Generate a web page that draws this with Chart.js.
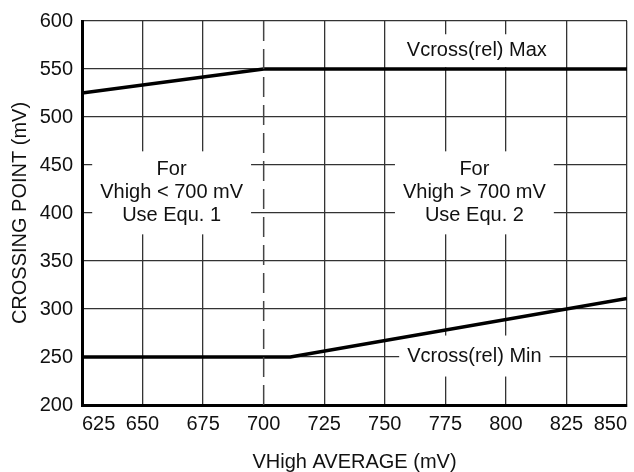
<!DOCTYPE html>
<html>
<head>
<meta charset="utf-8">
<script src="https://cdn.jsdelivr.net/npm/chart.js@4/dist/chart.umd.min.js"></script>
<style>
    html, body { margin: 0; padding: 0; background: #fff; }
    #wrap { width: 634px; height: 472px; }
</style>
</head>
<body>
<div id="wrap"><canvas id="crossChart" width="634" height="472"></canvas></div>
<script>
// ข้อมูลกราฟ (mV)
const maxX = [625, 700, 850];
const maxY = [525, 550, 550];
const minX = [625, 711, 850];
const minY = [250, 250, 311];
const splitX = [700, 700];
const splitY = [200, 600];
const xTicks = [625, 650, 675, 700, 725, 750, 775, 800, 825, 850];
const yTicks = [200, 250, 300, 350, 400, 450, 500, 550, 600];

// ข้อความในกราฟ (ตำแหน่งเป็นค่าบนแกน)
const notes = [
    { x: 662, y: 421, lines: ['For', 'Vhigh < 700 mV', 'Use Equ. 1'], padX: 8, padY: 7 },
    { x: 787, y: 421, lines: ['For', 'Vhigh > 700 mV', 'Use Equ. 2'], padX: 8, padY: 7 },
    { x: 788, y: 569, lines: ['Vcross(rel) Max'], padX: 6, padY: 5 },
    { x: 787, y: 251, lines: ['Vcross(rel) Min'], padX: 8, padY: 9 }
];

const FONT = "'Liberation Sans', Arial, sans-serif";
const FSIZE = 20;
const lineStep = 23;

const toPoints = (xs, ys) => xs.map((x, i) => ({ x, y: ys[i] }));

// วาดกล่องข้อความพื้นขาว
const notePlugin = {
    id: 'notes',
    beforeDatasetsDraw(chart) {
        const ctx = chart.ctx;
        const sx = chart.scales.x, sy = chart.scales.y;
        ctx.save();
        ctx.font = FSIZE + 'px ' + FONT;
        ctx.textAlign = 'center';
        ctx.textBaseline = 'middle';
        notes.forEach(n => {
            const cx = sx.getPixelForValue(n.x);
            const cy = sy.getPixelForValue(n.y);
            const w = Math.max(...n.lines.map(l => ctx.measureText(l).width));
            const h = n.lines.length * lineStep;
            ctx.fillStyle = '#fff';
            ctx.fillRect(cx - w / 2 - n.padX, cy - h / 2 - n.padY, w + n.padX * 2, h + n.padY * 2);
            ctx.fillStyle = '#111';
            n.lines.forEach((l, i) => {
                ctx.fillText(l, cx, cy - h / 2 + lineStep * (i + 0.5));
            });
        });
        ctx.restore();
    }
};

const ctx = document.getElementById('crossChart').getContext('2d');
new Chart(ctx, {
    type: 'scatter',
    data: {
        datasets: [
            {
                data: toPoints(splitX, splitY),
                showLine: true,
                borderColor: '#444',
                borderWidth: 1.5,
                borderDash: [20, 8],
                pointRadius: 0
            },
            {
                data: toPoints(maxX, maxY),
                showLine: true,
                borderColor: '#000',
                borderWidth: 3.5,
                pointRadius: 0
            },
            {
                data: toPoints(minX, minY),
                showLine: true,
                borderColor: '#000',
                borderWidth: 3.5,
                pointRadius: 0
            }
        ]
    },
    options: {
        responsive: false,
        animation: false,
        devicePixelRatio: 1,
        layout: { padding: { top: 21, right: 5, left: 0, bottom: 0 } },
        plugins: { legend: { display: false }, tooltip: { enabled: false } },
        scales: {
            x: {
                type: 'linear',
                min: 625,
                max: 850,
                afterBuildTicks: s => { s.ticks = xTicks.map(v => ({ value: v })); },
                afterFit: s => { s.height = 67; },
                border: { display: true, color: '#000', width: 3 },
                grid: {
                    drawTicks: false,
                    lineWidth: 1.3,
                    color: c => (c.tick && c.tick.value === 700) ? 'rgba(0,0,0,0)' : '#333'
                },
                ticks: {
                    padding: 7,
                    align: 'inner',
                    color: '#111',
                    font: { family: FONT, size: FSIZE }
                },
                title: {
                    display: true,
                    text: 'VHigh AVERAGE (mV)',
                    color: '#111',
                    padding: { top: 0, bottom: 0 },
                    font: { family: FONT, size: FSIZE, lineHeight: 1.0 }
                }
            },
            y: {
                type: 'linear',
                min: 200,
                max: 600,
                afterBuildTicks: s => { s.ticks = yTicks.map(v => ({ value: v })); },
                afterFit: s => { s.width = 82; },
                border: { display: true, color: '#000', width: 3 },
                grid: { drawTicks: false, lineWidth: 1.3, color: '#333' },
                ticks: {
                    padding: 9,
                    color: '#111',
                    font: { family: FONT, size: FSIZE }
                },
                title: {
                    display: true,
                    text: 'CROSSING POINT (mV)',
                    color: '#111',
                    padding: { top: 8, bottom: 0 },
                    font: { family: FONT, size: FSIZE, lineHeight: 1.2 }
                }
            }
        }
    },
    plugins: [notePlugin]
});
</script>
</body>
</html>
